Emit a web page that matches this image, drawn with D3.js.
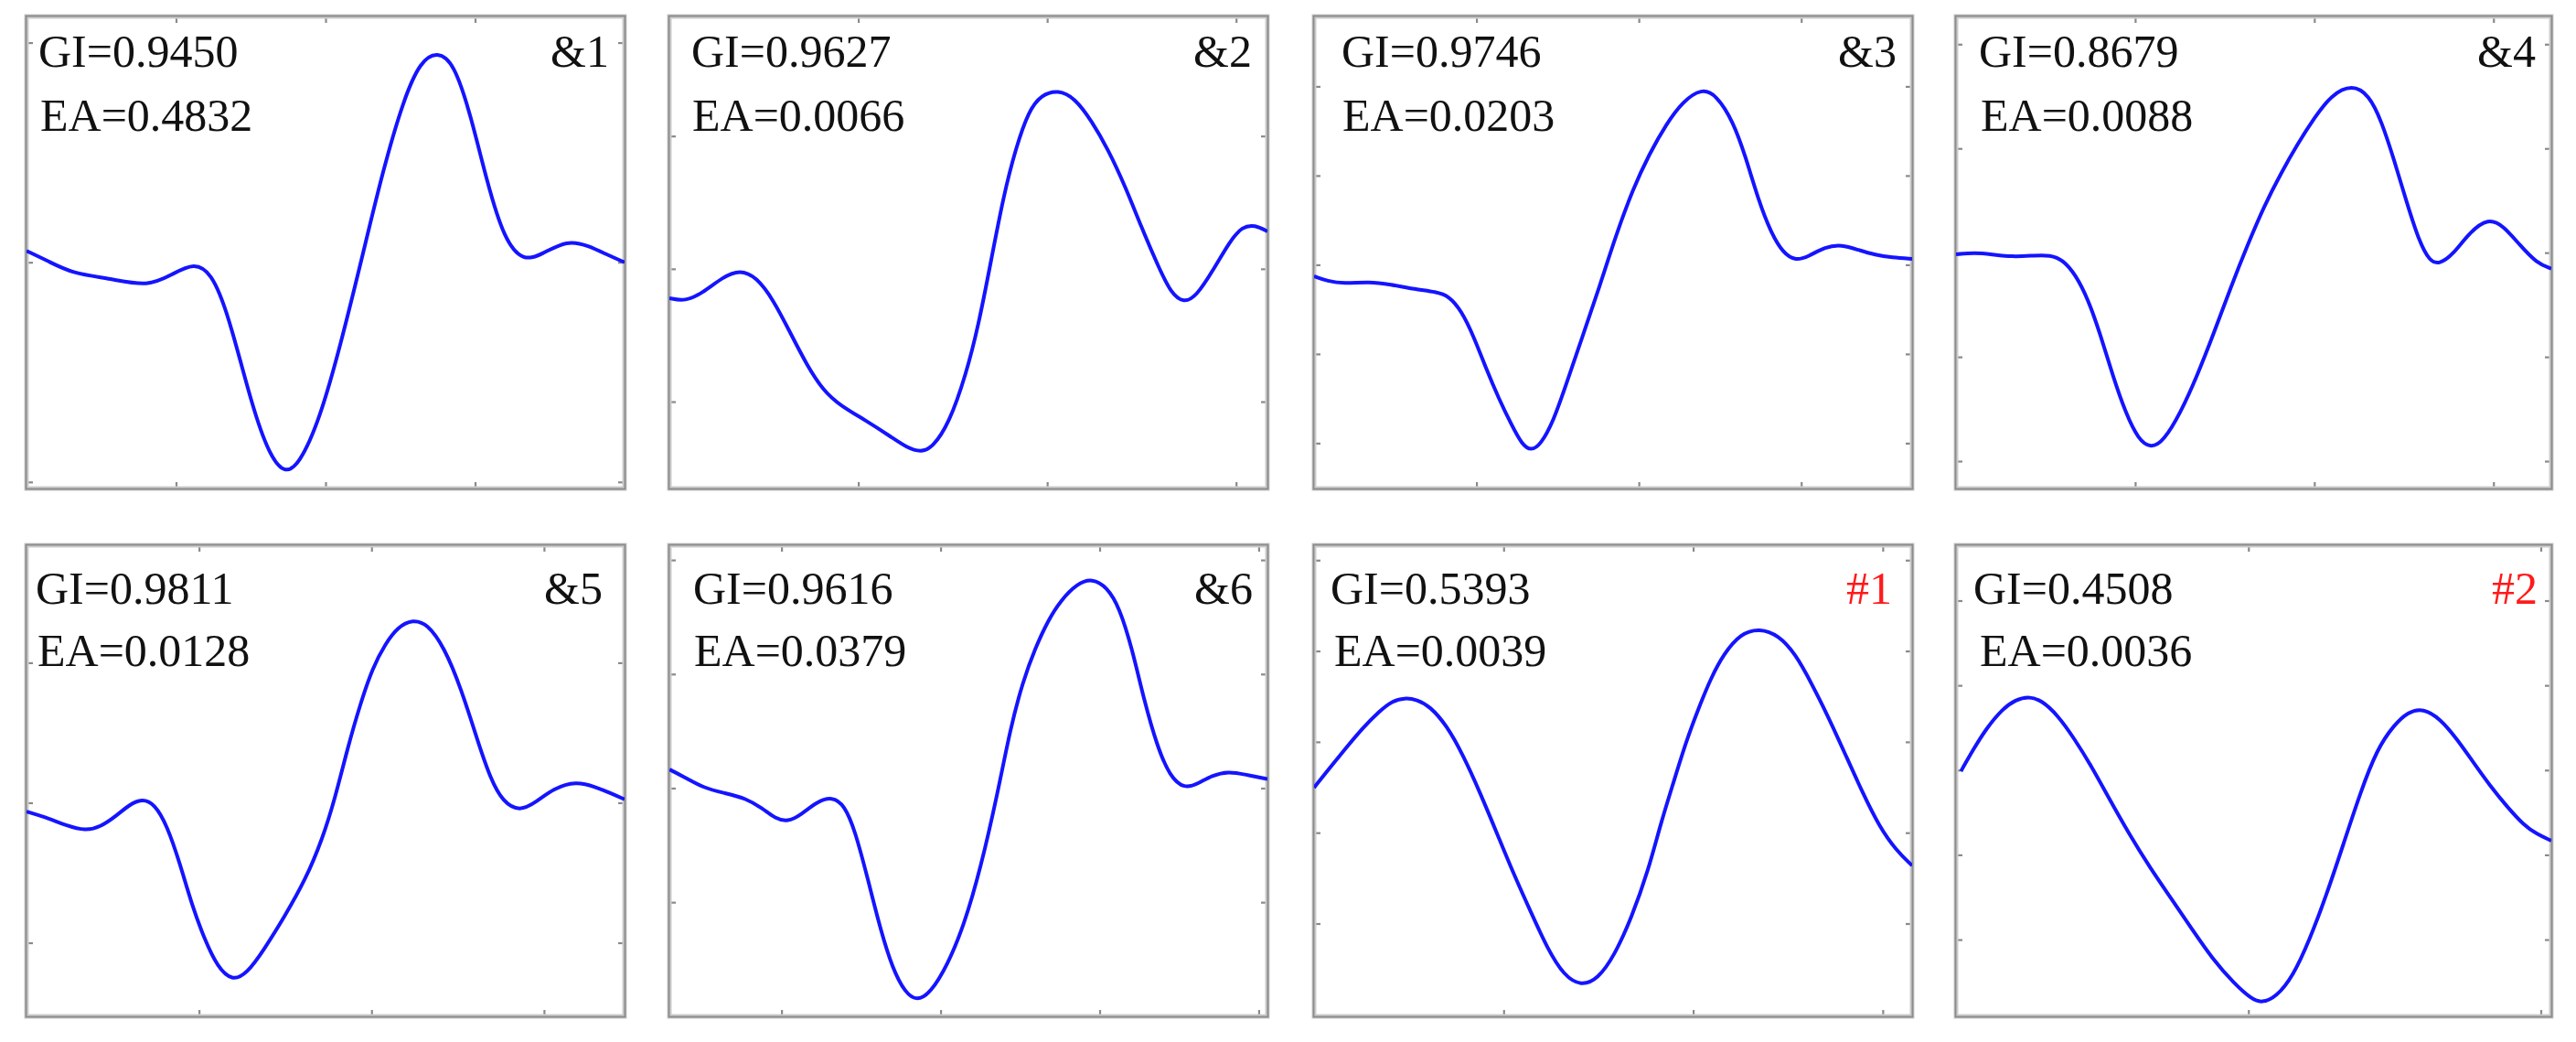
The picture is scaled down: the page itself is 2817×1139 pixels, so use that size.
<!DOCTYPE html>
<html>
<head>
<meta charset="utf-8">
<script src="https://cdn.jsdelivr.net/npm/d3@7"></script>
<style>
  html, body { margin: 0; padding: 0; background: #fff; }
  svg { display: block; }
</style>
</head>
<body>
<svg id="chart" width="2817" height="1139"></svg>
<script>
// ---------------- DATA ----------------
const panelLabels = ["&1", "&2", "&3", "&4", "&5", "&6", "#1", "#2"];
const giValues = ["0.9450", "0.9627", "0.9746", "0.8679", "0.9811", "0.9616", "0.5393", "0.4508"];
const eaValues = ["0.4832", "0.0066", "0.0203", "0.0088", "0.0128", "0.0379", "0.0039", "0.0036"];

// x / y axis ranges (in tick units) for each panel
const xDomains = [[0, 4], [0, 3.166], [0, 3.683], [0, 3.323], [0, 3.467], [0.295, 4.055], [0, 3.155], [0, 2.036]];
const yDomains = [[-1.030, 1.119], [-1.654, 1.90], [-2.509, 2.784], [-2.263, 2.266], [-1.526, 1.839], [-2.001, 2.129], [-3.022, 2.164], [-2.906, 2.653]];
const xTickValues = [[0, 1, 2, 3, 4], [0, 1, 2, 3], [0, 1, 2, 3], [0, 1, 2, 3], [0, 1, 2, 3], [1, 2, 3, 4], [0, 1, 2, 3], [0, 1, 2]];
const yTickValues = [[-1, 0, 1], [-1, 0, 1], [-2, -1, 0, 1, 2], [-2, -1, 0, 1, 2], [-1, 0, 1], [-2, -1, 0, 1, 2], [-2, -1, 0, 1, 2], [-2, -1, 0, 1, 2]];

// waveforms: [x, y]
const wave1 = [[0,0.052],[0.140,0.007],[0.308,-0.052],[0.561,-0.074],[0.813,-0.112],[0.981,-0.052],[1.121,-0.003],[1.233,-0.045],[1.345,-0.223],[1.514,-0.670],[1.626,-0.878],[1.724,-0.963],[1.822,-0.923],[1.962,-0.714],[2.102,-0.372],[2.242,0.015],[2.383,0.417],[2.523,0.744],[2.635,0.915],[2.747,0.960],[2.859,0.908],[2.971,0.670],[3.083,0.357],[3.195,0.104],[3.322,0.003],[3.448,0.037],[3.616,0.101],[3.756,0.077],[3.896,0.030],[4.0,0]];
const wave2 = [[0,-0.221],[0.084,-0.245],[0.173,-0.184],[0.284,-0.061],[0.373,-0.007],[0.461,-0.061],[0.550,-0.233],[0.639,-0.478],[0.727,-0.723],[0.816,-0.919],[0.905,-1.029],[1.038,-1.140],[1.171,-1.262],[1.259,-1.348],[1.330,-1.380],[1.392,-1.348],[1.481,-1.164],[1.570,-0.797],[1.636,-0.429],[1.703,0.061],[1.769,0.551],[1.836,0.919],[1.902,1.189],[1.969,1.311],[2.058,1.348],[2.146,1.287],[2.235,1.115],[2.324,0.895],[2.412,0.625],[2.501,0.306],[2.590,0.012],[2.656,-0.184],[2.723,-0.257],[2.789,-0.208],[2.878,-0.012],[2.967,0.208],[3.033,0.319],[3.100,0.331],[3.166,0.282]];
const wave3 = [[0,-0.128],[0.082,-0.183],[0.185,-0.212],[0.340,-0.190],[0.469,-0.220],[0.623,-0.275],[0.752,-0.304],[0.829,-0.348],[0.907,-0.513],[0.984,-0.806],[1.061,-1.172],[1.138,-1.502],[1.216,-1.795],[1.280,-2.015],[1.337,-2.088],[1.396,-2.015],[1.473,-1.758],[1.550,-1.355],[1.653,-0.806],[1.756,-0.256],[1.859,0.330],[1.962,0.842],[2.065,1.245],[2.168,1.575],[2.271,1.832],[2.387,1.978],[2.477,1.905],[2.580,1.612],[2.658,1.209],[2.735,0.733],[2.812,0.366],[2.889,0.128],[2.967,0.044],[3.044,0.092],[3.147,0.201],[3.250,0.227],[3.353,0.165],[3.456,0.110],[3.559,0.081],[3.683,0.066]];
const wave4 = [[0,-0.016],[0.105,0],[0.199,-0.016],[0.316,-0.041],[0.433,-0.028],[0.527,-0.022],[0.597,-0.069],[0.667,-0.210],[0.737,-0.445],[0.807,-0.790],[0.878,-1.197],[0.948,-1.542],[1.018,-1.793],[1.088,-1.878],[1.158,-1.809],[1.252,-1.542],[1.346,-1.182],[1.439,-0.774],[1.533,-0.335],[1.627,0.072],[1.720,0.448],[1.814,0.762],[1.907,1.044],[2.001,1.295],[2.095,1.514],[2.212,1.614],[2.305,1.514],[2.375,1.263],[2.446,0.887],[2.516,0.480],[2.586,0.103],[2.645,-0.085],[2.698,-0.110],[2.773,-0.022],[2.867,0.197],[2.972,0.332],[3.054,0.260],[3.148,0.072],[3.241,-0.100],[3.323,-0.154]];
const wave5 = [[0,-0.063],[0.109,-0.103],[0.231,-0.163],[0.341,-0.200],[0.426,-0.175],[0.523,-0.091],[0.596,-0.014],[0.669,0.029],[0.742,-0.007],[0.815,-0.163],[0.888,-0.428],[0.961,-0.740],[1.034,-0.981],[1.107,-1.173],[1.192,-1.274],[1.277,-1.221],[1.375,-1.053],[1.496,-0.813],[1.618,-0.548],[1.715,-0.260],[1.788,0.029],[1.861,0.389],[1.934,0.702],[2.007,0.966],[2.080,1.135],[2.153,1.255],[2.238,1.308],[2.324,1.279],[2.421,1.111],[2.518,0.822],[2.616,0.438],[2.689,0.173],[2.762,0.005],[2.859,-0.063],[2.956,0.005],[3.054,0.101],[3.187,0.154],[3.297,0.113],[3.394,0.065],[3.467,0.024]];
const wave6 = [[0.296,0.163],[0.380,0.104],[0.512,0],[0.644,-0.044],[0.776,-0.089],[0.881,-0.178],[0.960,-0.267],[1.040,-0.296],[1.119,-0.237],[1.224,-0.119],[1.317,-0.074],[1.396,-0.148],[1.462,-0.371],[1.541,-0.786],[1.620,-1.230],[1.699,-1.586],[1.778,-1.794],[1.852,-1.868],[1.937,-1.794],[2.042,-1.556],[2.148,-1.201],[2.253,-0.697],[2.359,-0.044],[2.438,0.519],[2.517,0.934],[2.596,1.230],[2.675,1.468],[2.755,1.645],[2.860,1.794],[2.953,1.838],[3.045,1.764],[3.124,1.586],[3.203,1.230],[3.282,0.756],[3.361,0.371],[3.441,0.104],[3.533,-0.009],[3.625,0.044],[3.704,0.110],[3.810,0.148],[3.916,0.119],[4.055,0.080]];
const wave7 = [[0,-0.504],[0.078,-0.299],[0.166,-0.075],[0.255,0.149],[0.344,0.336],[0.410,0.448],[0.477,0.485],[0.543,0.466],[0.610,0.392],[0.698,0.187],[0.787,-0.149],[0.876,-0.560],[0.965,-1.007],[1.053,-1.455],[1.142,-1.866],[1.231,-2.276],[1.319,-2.575],[1.408,-2.687],[1.497,-2.612],[1.585,-2.351],[1.674,-1.940],[1.763,-1.418],[1.829,-0.896],[1.896,-0.448],[1.962,0],[2.029,0.373],[2.095,0.709],[2.162,0.970],[2.251,1.194],[2.350,1.250],[2.450,1.175],[2.539,0.970],[2.627,0.634],[2.716,0.261],[2.805,-0.149],[2.894,-0.560],[2.982,-0.933],[3.071,-1.194],[3.155,-1.362]];
const wave8 = [[0.017,-0.012],[0.060,0.248],[0.103,0.489],[0.161,0.729],[0.204,0.830],[0.247,0.870],[0.290,0.830],[0.348,0.649],[0.405,0.369],[0.463,0.048],[0.520,-0.313],[0.592,-0.754],[0.664,-1.154],[0.736,-1.515],[0.807,-1.876],[0.879,-2.236],[0.951,-2.517],[1.009,-2.697],[1.045,-2.750],[1.095,-2.677],[1.152,-2.437],[1.210,-1.996],[1.267,-1.475],[1.325,-0.874],[1.382,-0.273],[1.440,0.248],[1.497,0.529],[1.547,0.689],[1.598,0.729],[1.655,0.609],[1.713,0.369],[1.770,0.088],[1.828,-0.192],[1.885,-0.433],[1.943,-0.653],[1.986,-0.754],[2.036,-0.834]];
const waves = [wave1, wave2, wave3, wave4, wave5, wave6, wave7, wave8];

// ---------------- LAYOUT ----------------
const colLeft = [29, 732, 1437, 2139];
const colRight = [683, 1386, 2091, 2790];
const rowTop = [18, 596];
const rowBottom = [534, 1111];
const giInset = [13, 24, 30, 25, 10, 26, 18, 19];
const eaInset = [15, 25, 31, 27, 12, 27, 22, 26];
const labelInset = [17, 17, 17, 17, 24, 16, 22, 15];
const giBase = [55, 64];
const eaBase = [125, 132];

const svg = d3.select("#chart");
const FONT = "'Liberation Serif', 'Times New Roman', 'DejaVu Serif', serif";

waves.forEach((wave, i) => {
  const col = i % 4, row = Math.floor(i / 4);
  const x0 = colLeft[col], x1 = colRight[col];
  const y0 = rowTop[row], y1 = rowBottom[row];
  const w = x1 - x0, h = y1 - y0;

  const g = svg.append("g").attr("transform", `translate(${x0},${y0})`);
  const xs = d3.scaleLinear().domain(xDomains[i]).range([0, w]);
  const ys = d3.scaleLinear().domain(yDomains[i]).range([h, 0]);

  g.append("clipPath").attr("id", "clip" + i)
    .append("rect").attr("x", 0).attr("y", 0).attr("width", w).attr("height", h);

  // ticks on all four sides, pointing inward, no labels
  const tickStyle = sel => {
    sel.select(".domain").remove();
    sel.selectAll(".tick line").attr("stroke", "#8a8a8a").attr("stroke-width", 2.2);
    sel.selectAll(".tick text").remove();
  };
  g.append("g").attr("transform", `translate(0,${h})`)
    .call(d3.axisBottom(xs).tickValues(xTickValues[i]).tickSize(-7).tickFormat("")).call(tickStyle);
  g.append("g")
    .call(d3.axisTop(xs).tickValues(xTickValues[i]).tickSize(-7).tickFormat("")).call(tickStyle);
  g.append("g")
    .call(d3.axisLeft(ys).tickValues(yTickValues[i]).tickSize(-7).tickFormat("")).call(tickStyle);
  g.append("g").attr("transform", `translate(${w},0)`)
    .call(d3.axisRight(ys).tickValues(yTickValues[i]).tickSize(-7).tickFormat("")).call(tickStyle);

  // frame
  g.append("rect").attr("x", 0).attr("y", 0).attr("width", w).attr("height", h)
    .attr("fill", "none").attr("stroke", "#cccccc").attr("stroke-width", 5);
  g.append("rect").attr("x", -0.5).attr("y", -0.5).attr("width", w + 1).attr("height", h + 1)
    .attr("fill", "none").attr("stroke", "#8c8c8c").attr("stroke-width", 2);

  // waveform
  const line = d3.line()
    .x(d => xs(d[0])).y(d => ys(d[1]))
    .curve(d3.curveBasis);
  g.append("path").datum(wave)
    .attr("clip-path", `url(#clip${i})`)
    .attr("d", line)
    .attr("fill", "none")
    .attr("stroke", "#1414ff")
    .attr("stroke-width", 4)
    .attr("stroke-linejoin", "round");

  // texts
  g.append("text").attr("x", giInset[i]).attr("y", giBase[row])
    .attr("font-family", FONT).attr("font-size", 50).attr("fill", "#111")
    .text("GI=" + giValues[i]);
  g.append("text").attr("x", eaInset[i]).attr("y", eaBase[row])
    .attr("font-family", FONT).attr("font-size", 50).attr("fill", "#111")
    .text("EA=" + eaValues[i]);
  g.append("text").attr("x", w - labelInset[i]).attr("y", giBase[row])
    .attr("text-anchor", "end")
    .attr("font-family", FONT).attr("font-size", 50)
    .attr("fill", panelLabels[i].startsWith("#") ? "#ff1a1a" : "#111")
    .text(panelLabels[i]);
});
</script>
</body>
</html>
